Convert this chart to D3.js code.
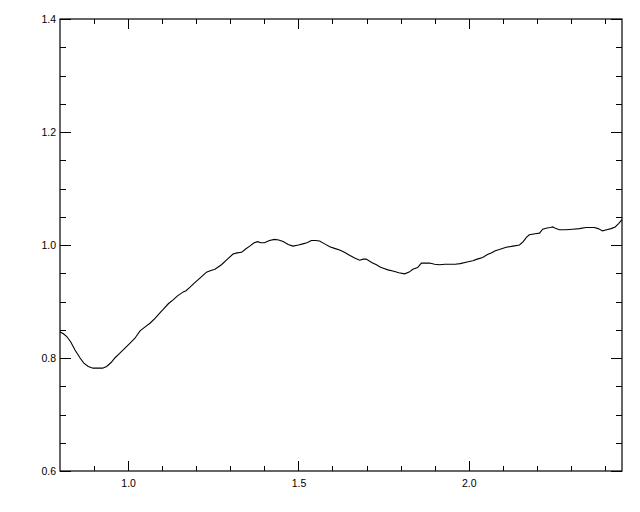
<!DOCTYPE html>
<html>
<head>
<meta charset="utf-8">
<script src="https://cdn.jsdelivr.net/npm/d3@7"></script>
<style>
  body { margin: 0; background: #fff; }
  svg text { font-family: "Liberation Sans", Arial, sans-serif; font-size: 10.5px; fill: #000; }
</style>
</head>
<body>
<div id="container"></div>
<script>
// wavelength-like x values and normalised ratio
const xVals = [
  0.800, 0.810, 0.820, 0.832, 0.844, 0.859, 0.870, 0.883, 0.897, 0.912,
  0.925, 0.937, 0.950, 0.961, 0.975, 0.990, 1.005, 1.020, 1.035, 1.050,
  1.065, 1.079, 1.092, 1.103, 1.118, 1.132, 1.145, 1.162, 1.170, 1.181,
  1.195, 1.210, 1.230, 1.243, 1.255, 1.274, 1.290, 1.308, 1.320, 1.333,
  1.345, 1.357, 1.370, 1.380, 1.390, 1.400, 1.415, 1.430, 1.442, 1.455,
  1.470, 1.484, 1.500, 1.513, 1.525, 1.538, 1.550, 1.562, 1.577, 1.592,
  1.606, 1.621, 1.635, 1.650, 1.665, 1.680, 1.690, 1.699, 1.715, 1.729,
  1.740, 1.749, 1.763, 1.777, 1.795, 1.812, 1.825, 1.836, 1.850, 1.861,
  1.872, 1.885, 1.900, 1.914, 1.930, 1.944, 1.960, 1.975, 1.995, 2.012,
  2.025, 2.041, 2.055, 2.066, 2.078, 2.090, 2.110, 2.130, 2.149, 2.160,
  2.170, 2.178, 2.195, 2.208, 2.217, 2.230, 2.240, 2.247, 2.256, 2.266,
  2.285, 2.305, 2.325, 2.344, 2.369, 2.380, 2.393, 2.405, 2.418, 2.430,
  2.440, 2.450
];
const yVals = [
  0.846, 0.843, 0.838, 0.828, 0.814, 0.800, 0.791, 0.785, 0.782, 0.782,
  0.782, 0.785, 0.792, 0.800, 0.808, 0.817, 0.826, 0.835, 0.848, 0.855,
  0.862, 0.870, 0.879, 0.886, 0.896, 0.903, 0.910, 0.917, 0.919, 0.925,
  0.933, 0.941, 0.952, 0.955, 0.957, 0.965, 0.974, 0.984, 0.986, 0.987,
  0.993, 0.998, 1.004, 1.006, 1.004, 1.004, 1.008, 1.010, 1.009, 1.006,
  1.001, 0.998, 1.000, 1.002, 1.004, 1.008, 1.008, 1.007, 1.002, 0.997,
  0.994, 0.991, 0.987, 0.982, 0.977, 0.973, 0.975, 0.975, 0.969, 0.965,
  0.961, 0.959, 0.956, 0.954, 0.951, 0.949, 0.952, 0.957, 0.960, 0.968,
  0.968, 0.968, 0.966, 0.965, 0.966, 0.966, 0.966, 0.967, 0.970, 0.972,
  0.975, 0.978, 0.983, 0.986, 0.990, 0.992, 0.996, 0.998, 1.000, 1.006,
  1.014, 1.018, 1.020, 1.021, 1.028, 1.030, 1.031, 1.032, 1.029, 1.027,
  1.027, 1.028, 1.029, 1.031, 1.031, 1.029, 1.025, 1.027, 1.029, 1.032,
  1.038, 1.045
];

const xDomain = [0.8, 2.45];
const yDomain = [0.6, 1.4];
const xMajorTicks = [1.0, 1.5, 2.0];
const xMinorTicks = [0.9, 1.1, 1.2, 1.3, 1.4, 1.6, 1.7, 1.8, 1.9, 2.1, 2.2, 2.3, 2.4];
const xTickLabels = ["1.0", "1.5", "2.0"];
const yMajorTicks = [0.6, 0.8, 1.0, 1.2, 1.4];
const yMinorTicks = [0.65, 0.7, 0.75, 0.85, 0.9, 0.95, 1.05, 1.1, 1.15, 1.25, 1.3, 1.35];
const yTickLabels = ["0.6", "0.8", "1.0", "1.2", "1.4"];

const data = xVals.map((x, i) => ({x: x, y: yVals[i]}));

const margin = {top: 19, right: 18, bottom: 41, left: 60};
const totalW = 640, totalH = 512;
const width = totalW - margin.left - margin.right;
const height = totalH - margin.top - margin.bottom;

const svg = d3.select("#container")
  .append("svg")
  .attr("width", totalW)
  .attr("height", totalH);

svg.append("rect").attr("width", totalW).attr("height", totalH).attr("fill", "#fff");

const g = svg.append("g")
  .attr("transform", `translate(${margin.left},${margin.top})`);

const x = d3.scaleLinear().domain(xDomain).range([0, width]);
const y = d3.scaleLinear().domain(yDomain).range([height, 0]);

// ticks on all four sides, pointing inward
const styleAxis = sel => {
  sel.select(".domain").remove();
  sel.selectAll("line").attr("stroke", "#000").attr("stroke-width", 1)
    .attr("shape-rendering", "crispEdges");
};

g.append("g").attr("transform", `translate(0,${height})`)
  .call(d3.axisBottom(x).tickValues(xMinorTicks).tickSize(-5).tickFormat(""))
  .call(styleAxis);
g.append("g").attr("transform", `translate(0,${height})`)
  .call(d3.axisBottom(x).tickValues(xMajorTicks).tickSize(-10).tickPadding(8.5)
    .tickFormat((d, i) => xTickLabels[i]))
  .call(styleAxis);
g.append("g")
  .call(d3.axisTop(x).tickValues(xMinorTicks).tickSize(-5).tickFormat(""))
  .call(styleAxis);
g.append("g")
  .call(d3.axisTop(x).tickValues(xMajorTicks).tickSize(-10).tickFormat(""))
  .call(styleAxis);

g.append("g")
  .call(d3.axisLeft(y).tickValues(yMinorTicks).tickSize(-6).tickFormat(""))
  .call(styleAxis);
g.append("g")
  .call(d3.axisLeft(y).tickValues(yMajorTicks).tickSize(-11).tickPadding(4)
    .tickFormat((d, i) => yTickLabels[i]))
  .call(styleAxis);
g.append("g").attr("transform", `translate(${width},0)`)
  .call(d3.axisRight(y).tickValues(yMinorTicks).tickSize(-6).tickFormat(""))
  .call(styleAxis);
g.append("g").attr("transform", `translate(${width},0)`)
  .call(d3.axisRight(y).tickValues(yMajorTicks).tickSize(-11).tickFormat(""))
  .call(styleAxis);

g.selectAll(".tick text")
  .style("font-family", "'Liberation Sans', Arial, sans-serif")
  .style("font-size", "10.5px")
  .attr("fill", "#000");

// frame
g.append("rect")
  .attr("width", width)
  .attr("height", height)
  .attr("fill", "none")
  .attr("stroke", "#000")
  .attr("stroke-width", 1.2);

const line = d3.line()
  .x(d => x(d.x))
  .y(d => y(d.y));

g.append("path")
  .datum(data)
  .attr("fill", "none")
  .attr("stroke", "#000")
  .attr("stroke-width", 1.1)
  .attr("d", line);
</script>
</body>
</html>
